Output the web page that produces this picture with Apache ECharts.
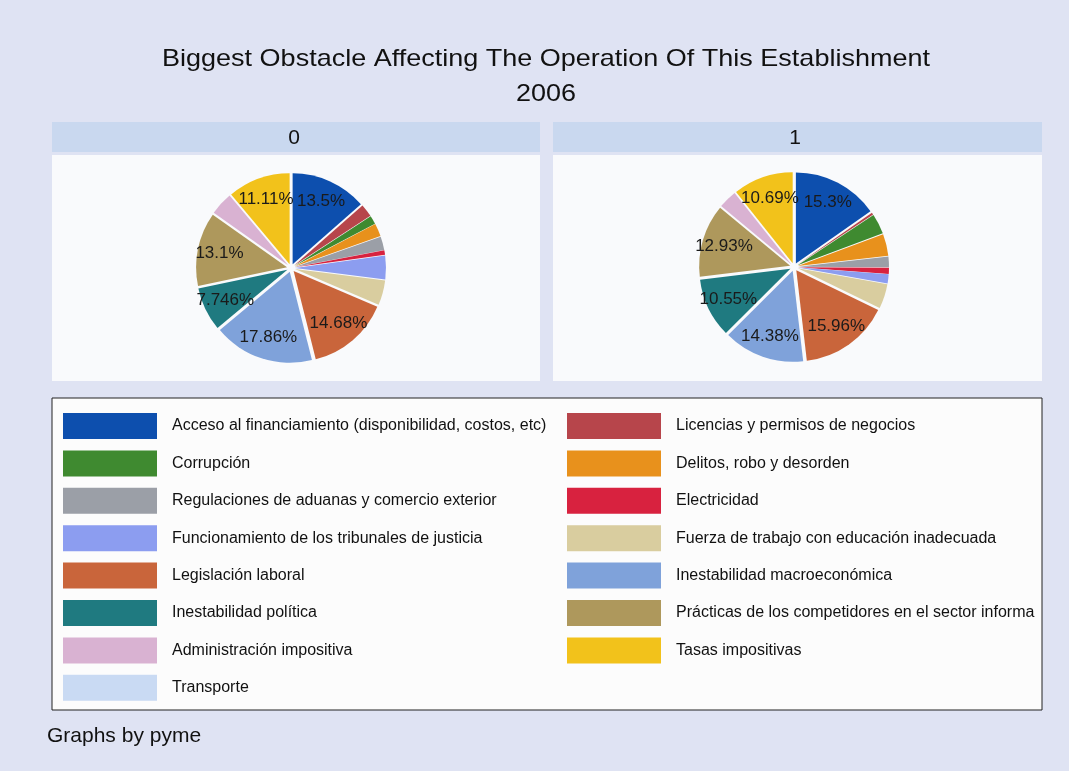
<!DOCTYPE html>
<html>
<head>
<meta charset="utf-8">
<script src="https://cdn.jsdelivr.net/npm/echarts@6/dist/echarts.min.js"></script>
<style>
  html, body { margin: 0; padding: 0; background: #dfe3f3; }
  #chart { width: 1069px; height: 771px; }
</style>
</head>
<body>
<div id="chart"></div>
<script>
// Obstacle categories, in slice order (clockwise from 12 o'clock)
const categories = [
  'Acceso al financiamiento (disponibilidad, costos, etc)',
  'Licencias y permisos de negocios',
  'Corrupción',
  'Delitos, robo y desorden',
  'Regulaciones de aduanas y comercio exterior',
  'Electricidad',
  'Funcionamiento de los tribunales de justicia',
  'Fuerza de trabajo con educación inadecuada',
  'Legislación laboral',
  'Inestabilidad macroeconómica',
  'Inestabilidad política',
  'Prácticas de los competidores en el sector informal',
  'Administración impositiva',
  'Tasas impositivas',
  'Transporte'
];

// Percent of establishments per obstacle, pyme = 0 and pyme = 1
const share0 = [13.5, 2.3, 1.5, 2.3, 2.4, 0.8, 4.2, 4.4, 14.68, 17.86, 7.746, 13.1, 4.1, 11.11, 0];
const share1 = [15.3, 0.4, 3.6, 3.9, 1.9, 1.1, 1.6, 4.4, 15.96, 14.38, 10.55, 12.93, 3.3, 10.69, 0];

const panelLabels = ['0', '1'];

const sliceColors = [
  '#0d4fae', '#b7454b', '#3f8a30', '#e8911c', '#9b9fa7',
  '#d8223f', '#8c9df0', '#d9cd9f', '#c9653b', '#7fa2da',
  '#1f7a80', '#ae985c', '#d9b2d2', '#f2c21b', '#c9daf3'
];

const FONT = '"Liberation Sans", Arial, sans-serif';
const labelMin = 5; // slices below this share carry no label

function fmtPct(v) {
  return parseFloat(v.toPrecision(4)) + '%';
}

function sliceData(values) {
  return categories.map((name, i) => ({
    name: name,
    value: values[i],
    selected: true,
    itemStyle: { color: sliceColors[i] }
  }));
}

function pieSeries(values, center) {
  return {
    type: 'pie',
    center: center,
    radius: 91,
    startAngle: 90,
    clockwise: true,
    selectedMode: 'multiple',
    selectedOffset: 4,
    silent: true,
    avoidLabelOverlap: false,
    label: { show: false },
    labelLine: { show: false },
    data: sliceData(values)
  };
}

// Transparent companion pie that only carries the percentage labels,
// so the text sits well out along each slice's bisector.
function labelSeries(values, center) {
  return {
    type: 'pie',
    center: center,
    radius: 140,
    startAngle: 90,
    clockwise: true,
    silent: true,
    avoidLabelOverlap: false,
    z: 5,
    itemStyle: { color: 'rgba(0,0,0,0)', borderWidth: 0 },
    label: {
      show: true,
      position: 'inside',
      fontFamily: FONT,
      fontSize: 17,
      color: '#1a1a1a',
      formatter: p => (p.value >= labelMin ? fmtPct(p.value) : '')
    },
    labelLine: { show: false },
    emphasis: { disabled: true },
    data: categories.map((name, i) => ({ name: name, value: values[i] }))
  };
}

const leftNames = categories.filter((_, i) => i % 2 === 0);
const rightNames = categories.filter((_, i) => i % 2 === 1);

function legendColumn(names, left, textWidth) {
  return {
    orient: 'vertical',
    left: left,
    top: 413,
    padding: 0,
    itemWidth: 94,
    itemHeight: 26,
    itemGap: 11.4,
    icon: 'rect',
    selectedMode: false,
    data: names,
    textStyle: {
      fontFamily: FONT,
      fontSize: 16,
      color: '#111',
      padding: [0, 0, 0, 10],
      width: textWidth,
      overflow: 'truncate',
      ellipsis: ''
    }
  };
}

const chart = echarts.init(document.getElementById('chart'), null, { renderer: 'canvas' });

chart.setOption({
  backgroundColor: '#dfe3f3',
  animation: false,
  graphic: [
    { type: 'rect', shape: { x: 52, y: 122, width: 488, height: 30 }, style: { fill: '#c9d8ef' } },
    { type: 'rect', shape: { x: 553, y: 122, width: 489, height: 30 }, style: { fill: '#c9d8ef' } },
    { type: 'rect', shape: { x: 52, y: 155, width: 488, height: 226 }, style: { fill: '#f9fafc' } },
    { type: 'rect', shape: { x: 553, y: 155, width: 489, height: 226 }, style: { fill: '#f9fafc' } },
    { type: 'rect', shape: { x: 52, y: 398, width: 990, height: 312 }, style: { fill: '#fcfcfc', stroke: '#222', lineWidth: 1 } },
    { type: 'text', x: 546, y: 59, scaleX: 1.125, style: { text: 'Biggest Obstacle Affecting The Operation Of This Establishment', font: '24px ' + FONT, fill: '#111', textAlign: 'center', textVerticalAlign: 'middle' } },
    { type: 'text', x: 546, y: 94, scaleX: 1.125, style: { text: '2006', font: '24px ' + FONT, fill: '#111', textAlign: 'center', textVerticalAlign: 'middle' } },
    { type: 'text', x: 294, y: 138, style: { text: panelLabels[0], font: '21px ' + FONT, fill: '#111', textAlign: 'center', textVerticalAlign: 'middle' } },
    { type: 'text', x: 795, y: 138, style: { text: panelLabels[1], font: '21px ' + FONT, fill: '#111', textAlign: 'center', textVerticalAlign: 'middle' } },
    { type: 'text', x: 47, y: 736, style: { text: 'Graphs by pyme', font: '21px ' + FONT, fill: '#111', textAlign: 'left', textVerticalAlign: 'middle' } }
  ],
  legend: [legendColumn(leftNames, 63, 400), legendColumn(rightNames, 567, 362)],
  series: [
    pieSeries(share0, [291, 268]),
    pieSeries(share1, [794, 267]),
    labelSeries(share0, [291, 268]),
    labelSeries(share1, [794, 267])
  ]
});
</script>
</body>
</html>
